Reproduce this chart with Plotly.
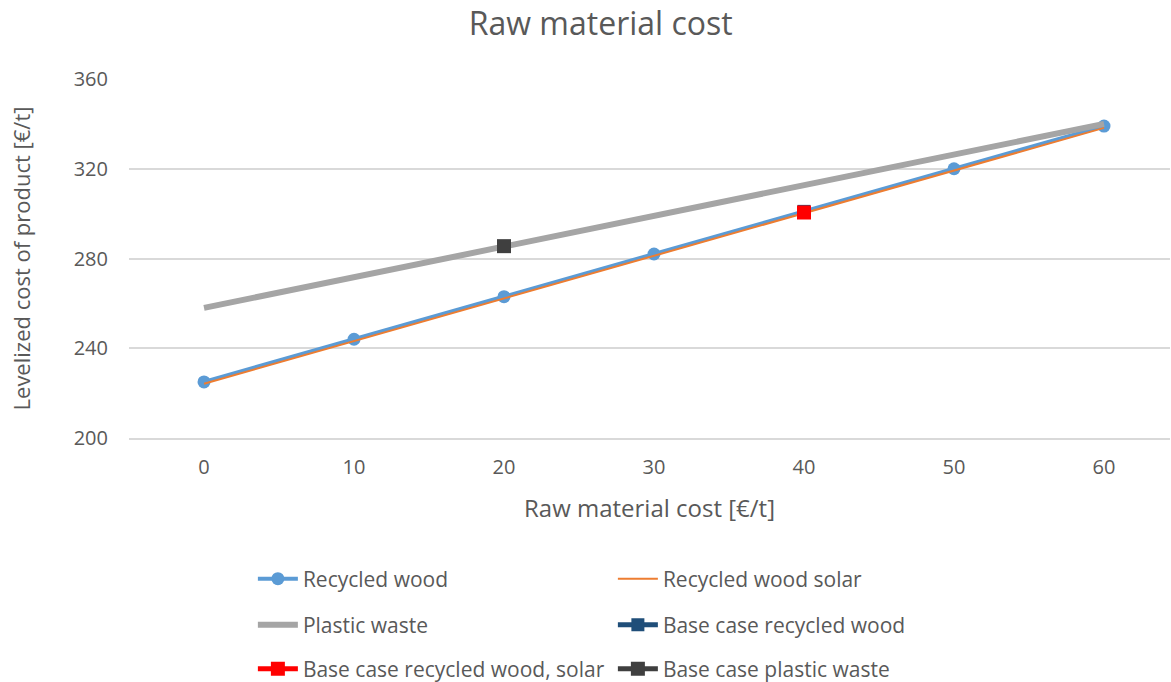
import plotly.graph_objects as go

raw_cost = [0, 10, 20, 30, 40, 50, 60]
recycled_wood = [225, 244, 263, 282, 301, 320, 339]
recycled_wood_solar = [224.2, 243.2, 262.2, 281.2, 300.2, 319.2, 338.2]
plastic_waste = [258, 271.7, 285.3, 299, 312.7, 326.3, 340]
base_wood_x = [40]
base_wood_y = [301]
base_wood_solar_x = [40]
base_wood_solar_y = [300.5]
base_plastic_x = [20]
base_plastic_y = [285.5]
y_ticks = [200, 240, 280, 320, 360]

FONT = "Open Sans"
GRAY = "#595959"

fig = go.Figure()
fig.add_trace(go.Scatter(x=raw_cost, y=recycled_wood, name="Recycled wood", mode="lines+markers",
                         line=dict(color="#5B9BD5", width=4), marker=dict(symbol="circle", size=13, color="#5B9BD5"),
                         legend="legend"))
fig.add_trace(go.Scatter(x=raw_cost, y=recycled_wood_solar, name="Recycled wood solar", mode="lines",
                         line=dict(color="#ED7D31", width=2), legend="legend"))
fig.add_trace(go.Scatter(x=raw_cost, y=plastic_waste, name="Plastic waste", mode="lines",
                         line=dict(color="#A5A5A5", width=6), legend="legend2"))
fig.add_trace(go.Scatter(x=base_wood_x, y=base_wood_y, name="Base case recycled wood", mode="lines+markers",
                         line=dict(color="#1F4E79", width=5), marker=dict(symbol="square", size=13, color="#1F4E79"),
                         legend="legend2"))
fig.add_trace(go.Scatter(x=base_wood_solar_x, y=base_wood_solar_y, name="Base case recycled wood, solar", mode="lines+markers",
                         line=dict(color="#FF0000", width=5), marker=dict(symbol="square", size=14, color="#FF0000"),
                         legend="legend3"))
fig.add_trace(go.Scatter(x=base_plastic_x, y=base_plastic_y, name="Base case plastic waste", mode="lines+markers",
                         line=dict(color="#3F3F3F", width=5), marker=dict(symbol="square", size=14, color="#3F3F3F"),
                         legend="legend3"))

def leg(y):
    return dict(orientation="h", x=0.119, xanchor="left", y=y, yanchor="middle", xref="paper", yref="container",
                entrywidth=305, entrywidthmode="pixels", font=dict(family=FONT, size=21, color=GRAY),
                bgcolor="rgba(0,0,0,0)", traceorder="normal", itemwidth=40)

fig.update_layout(
    width=1171, height=682,
    paper_bgcolor="white", plot_bgcolor="white",
    margin=dict(l=129, r=1, t=79, b=244),
    title=dict(text="Raw material cost", x=0.513, xanchor="center", y=1 - 24/682, yanchor="middle",
               font=dict(family=FONT, size=32, color=GRAY)),
    xaxis=dict(range=[-5, 64.4], tickvals=raw_cost, ticktext=[str(v) for v in raw_cost],
               showgrid=False, zeroline=False, showline=True, linecolor="#D9D9D9", linewidth=1.5, ticks="",
               ticklabelstandoff=10,
               tickfont=dict(family=FONT, size=20, color=GRAY),
               title=dict(text="Raw material cost [€/t]", font=dict(family=FONT, size=24, color=GRAY), standoff=21)),
    yaxis=dict(range=[200, 360], tickvals=y_ticks, showgrid=True, gridcolor="#D9D9D9", gridwidth=1.5,
               zeroline=False, showline=False, ticks="", ticklabelstandoff=20,
               tickfont=dict(family=FONT, size=20, color=GRAY),
               title=dict(text="Levelized cost of product [€/t]", font=dict(family=FONT, size=22, color=GRAY), standoff=36)),
    legend=leg(1 - 579/682),
    legend2=leg(1 - 625/682),
    legend3=leg(1 - 669/682),
    showlegend=True,
)
fig.write_html("out.html", post_script="document.body.style.margin='0';",
               config={"displayModeBar": False})
